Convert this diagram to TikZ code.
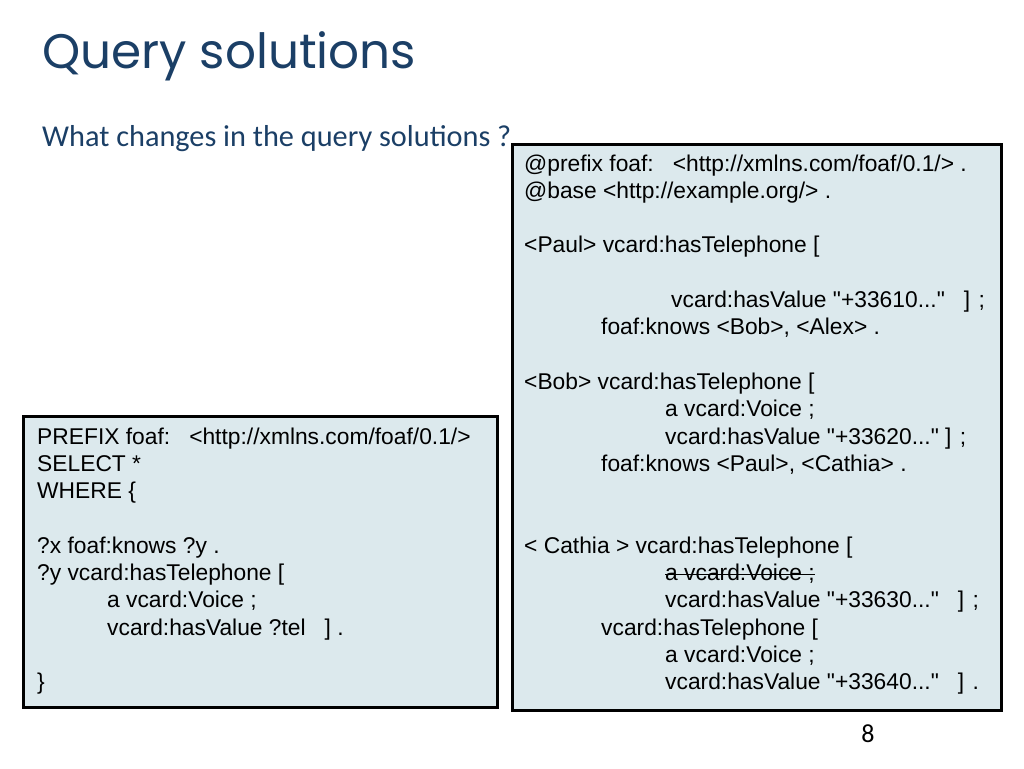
\documentclass[tikz,border=0pt]{standalone}
\usepackage{fontspec}
\setmainfont{Liberation Sans}
\newfontfamily\titlefont{Poppins}
\newfontfamily\subfont{Carlito}
\newcommand\dqt{\XeTeXglyph\XeTeXcharglyph"22\relax}
\definecolor{titleblue}{HTML}{1B3F66}
\definecolor{boxfill}{HTML}{DCE9ED}
\begin{document}
\begin{tikzpicture}[x=1pt,y=-1pt,
  code/.style={anchor=base west, inner sep=0pt, font=\fontsize{22.8}{26}\selectfont},
  box/.style={draw=black, line width=3pt, fill=boxfill, anchor=north west, inner sep=0pt}]
\useasboundingbox[fill=white] (0,0) rectangle (1024,768);
% title and subtitle
\node[anchor=base west, inner sep=0pt, text=titleblue, font=\titlefont\fontsize{48.5}{56}\selectfont] (title) at (42,68) {Query solutions};
\node[anchor=base west, inner sep=0pt, text=titleblue, font=\subfont\fontsize{30.3}{34}\selectfont] (sub) at (42,146) {What changes in the query solutions ?};
% boxes
\node[box, minimum width=489pt, minimum height=566pt] (rbox) at (511,143) {};
\node[box, minimum width=474pt, minimum height=291pt] (lbox) at (22,415) {};
% right box text
\node[code] (r0)  at (524,171) {@prefix foaf:\ \ \ <http://xmlns.com/foaf/0.1/> .};
\node[code] (r1)  at (524,198.3) {@base <http://example.org/> .};
\node[code] (r3)  at (524,252.9) {<Paul> vcard:hasTelephone [};
\node[code] (r5)  at (671,307.5) {vcard:hasValue \dqt+33610...\dqt\ \ \ ] ;};
\node[code] (r6)  at (601,334.8) {foaf:knows <Bob>, <Alex> .};
\node[code] (r8)  at (524,389.4) {<Bob> vcard:hasTelephone [};
\node[code] (r9)  at (665,416.7) {a vcard:Voice ;};
\node[code] (r10) at (665,444.0) {vcard:hasValue \dqt+33620...\dqt\ ] ;};
\node[code] (r11) at (601,471.3) {foaf:knows <Paul>, <Cathia> .};
\node[code] (r14) at (524,553.2) {< Cathia > vcard:hasTelephone [};
\node[code] (r15) at (665,580.5) {a vcard:Voice ;};
\node[code] (r16) at (665,607.8) {vcard:hasValue \dqt+33630...\dqt\ \ \ ] ;};
\node[code] (r17) at (601,635.1) {vcard:hasTelephone [};
\node[code] (r18) at (665,662.4) {a vcard:Voice ;};
\node[code] (r19) at (665,689.7) {vcard:hasValue \dqt+33640...\dqt\ \ \ ] .};
\draw[line width=1pt] ([yshift=6.5pt]r15.base west) -- ([yshift=6.5pt]r15.base east);
% left box text
\node[code] (l10) at (37,444.0) {PREFIX foaf:\ \ \ <http://xmlns.com/foaf/0.1/>};
\node[code] (l11) at (37,471.3) {SELECT *};
\node[code] (l12) at (37,498.6) {WHERE \{};
\node[code] (l14) at (37,553.2) {?x foaf:knows ?y .};
\node[code] (l15) at (37,580.5) {?y vcard:hasTelephone [};
\node[code] (l16) at (107,607.8) {a vcard:Voice ;};
\node[code] (l17) at (107,635.1) {vcard:hasValue ?tel\ \ \ ] .};
\node[code] (l19) at (37,689.7) {\}};
% page number
\node[anchor=base, inner sep=0pt, font=\subfont\fontsize{26}{30}\selectfont] (page) at (868,742) {8};
\end{tikzpicture}
\end{document}
